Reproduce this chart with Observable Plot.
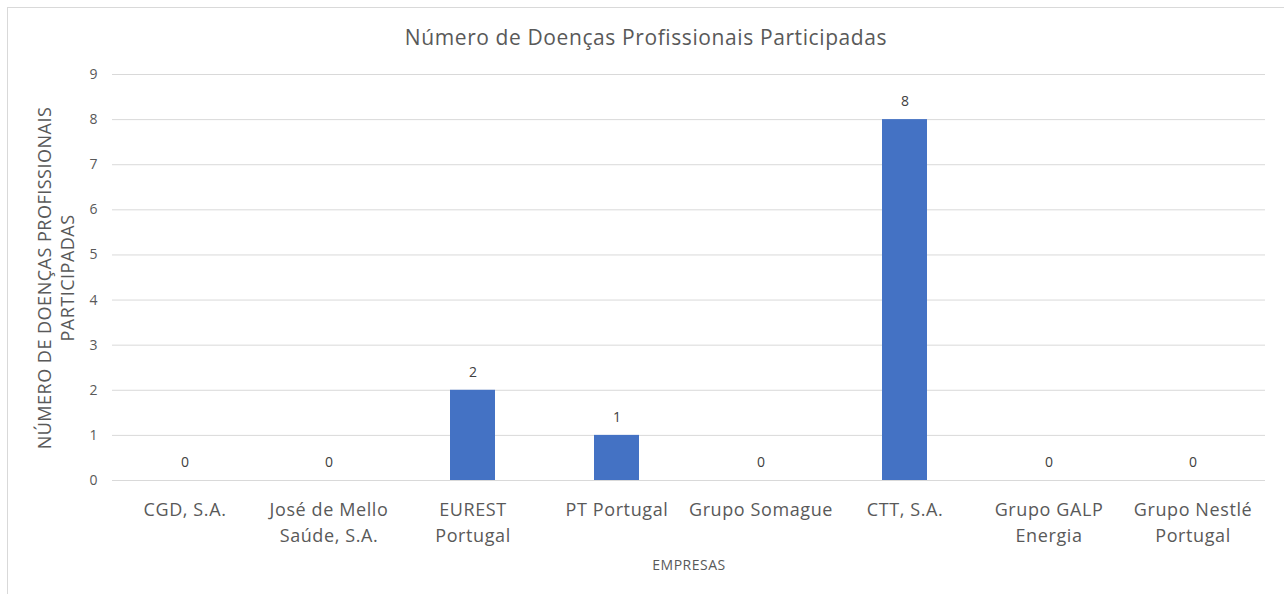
<!DOCTYPE html>
<html><head><meta charset="utf-8">
<script src="https://cdn.jsdelivr.net/npm/d3@7"></script>
<script src="https://cdn.jsdelivr.net/npm/@observablehq/plot@0.6"></script>
<style>
html,body{margin:0;padding:0;background:#fff;}
#wrap{position:relative;width:1284px;height:594px;overflow:hidden;font-family:"Open Sans",sans-serif;color:#595959;}
#frame{position:absolute;left:7px;top:7px;width:1300px;height:620px;border:1px solid #d9d9d9;box-sizing:border-box;}
#title{position:absolute;left:0;width:1292px;top:25px;text-align:center;font-size:21px;line-height:24px;letter-spacing:0.6px;}
#ylab{position:absolute;left:56px;top:278px;width:440px;transform:translate(-50%,-50%) rotate(-90deg);text-align:center;font-size:18px;line-height:23px;letter-spacing:0.5px;}
#xlab{position:absolute;left:0;width:1378px;top:556px;text-align:center;font-size:14px;line-height:18px;letter-spacing:0.5px;}
#chart{position:absolute;left:0;top:0;}
#chart g[aria-label="x-axis tick label"] text{letter-spacing:0.6px;}
</style></head>
<body>
<div id="wrap">
  <div id="frame"></div>
  <div id="chart"></div>
  <div id="title">Número de Doenças Profissionais Participadas</div>
  <div id="ylab">NÚMERO DE DOENÇAS PROFISSIONAIS<br>PARTICIPADAS</div>
  <div id="xlab">EMPRESAS</div>
</div>
<script>
const companies = ["CGD, S.A.", "José de Mello\nSaúde, S.A.", "EUREST\nPortugal", "PT Portugal", "Grupo Somague", "CTT, S.A.", "Grupo GALP\nEnergia", "Grupo Nestlé\nPortugal"];
const values = [0, 0, 2, 1, 0, 8, 0, 0];
const yTicks = [0, 1, 2, 3, 4, 5, 6, 7, 8, 9];

const data = companies.map((c, i) => ({company: c, value: values[i]}));
const font = "'Open Sans', sans-serif";

const plot = Plot.plot({
  width: 1284,
  height: 594,
  marginLeft: 112,
  marginRight: 19,
  marginTop: 74,
  marginBottom: 114,
  style: {fontFamily: font, color: "#595959", background: "transparent", overflow: "visible"},
  x: {domain: companies, paddingInner: 0.6875, paddingOuter: 0.34375, label: null},
  y: {domain: [0, 9], label: null},
  marks: [
    Plot.ruleY(yTicks, {stroke: "#d9d9d9", strokeWidth: 1}),
    Plot.barY(data, {x: "company", y: "value", fill: "#4472C4"}),
    Plot.text(data, {x: "company", y: "value", text: d => String(d.value), dy: -18, fontSize: 14, fill: "#404040"}),
    Plot.axisY({ticks: yTicks, tickSize: 0, tickPadding: 15, fontSize: 14, fill: "#595959", label: null}),
    Plot.axisX({tickSize: 0, tickPadding: 17, fontSize: 18, lineHeight: 1.45, lineAnchor: "top", fill: "#595959", label: null})
  ]
});
document.getElementById("chart").appendChild(plot);
</script>
</body></html>
